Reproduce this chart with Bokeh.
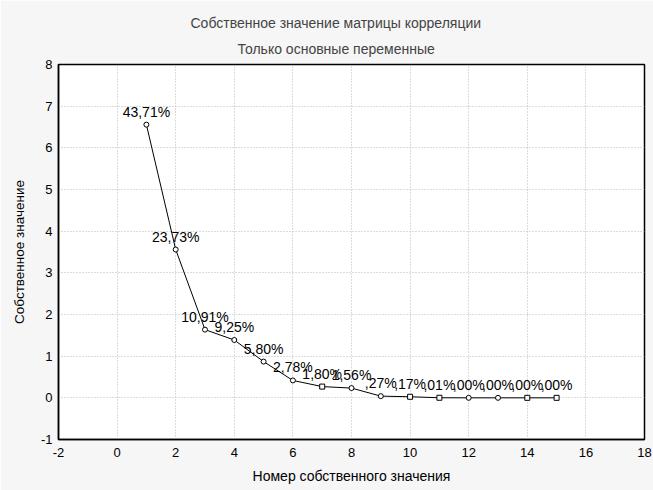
from bokeh.plotting import figure
from bokeh.models import (ColumnDataSource, Range1d, FixedTicker,
                          Title, PrintfTickFormatter)
from bokeh.core.properties import value
from bokeh.embed import file_html
from bokeh.resources import INLINE

# ---- data ----
components = [1, 2, 3, 4, 5, 6, 7, 8, 9, 10, 11, 12, 13, 14, 15]
eigenvalues = [6.557, 3.560, 1.637, 1.388, 0.870, 0.417, 0.270, 0.234,
               0.041, 0.026, 0.002, 0.0, 0.0, 0.0, 0.0]
pct_labels = ["43,71%", "23,73%", "10,91%", "9,25%", "5,80%", "2,78%", "1,80%",
              "1,56%", ",27%", ",17%", ",01%", ",00%", ",00%", ",00%", ",00%"]
markers = ["circle", "circle", "circle", "circle", "circle", "circle", "square",
           "circle", "circle", "square", "square", "circle", "circle", "square", "square"]
x_ticks = [-2, 0, 2, 4, 6, 8, 10, 12, 14, 16, 18]
y_ticks = [-1, 0, 1, 2, 3, 4, 5, 6, 7, 8]
title_text = "Собственное значение матрицы корреляции"
subtitle_text = "Только основные переменные"
x_label = "Номер собственного значения"
y_label = "Собственное значение"

FONT = "Liberation Sans"

src = ColumnDataSource(dict(x=components, y=eigenvalues, lab=pct_labels, m=markers))

p = figure(width=653, height=490, output_backend="svg", toolbar_location=None,
           x_range=Range1d(-2, 18), y_range=Range1d(-1, 8),
           min_border_left=58, min_border_right=9, min_border_top=64, min_border_bottom=51,
           background_fill_color="white", border_fill_color="#f6f6f6")

p.outline_line_color = "black"
p.outline_line_width = 1.5

for ax in (p.xaxis[0], p.yaxis[0]):
    ax.axis_line_color = "black"
    ax.axis_line_width = 1.5
    ax.major_tick_in = 0
    ax.major_tick_out = 0
    ax.minor_tick_in = 0
    ax.minor_tick_out = 0
    ax.major_label_text_font = FONT
    ax.major_label_text_font_size = "13px"
    ax.major_label_text_color = "black"
    ax.formatter = PrintfTickFormatter(format="%d")
    ax.axis_label_text_font = FONT
    ax.axis_label_text_font_style = "normal"
    ax.axis_label_text_color = "black"

p.xaxis[0].ticker = FixedTicker(ticks=x_ticks)
p.yaxis[0].ticker = FixedTicker(ticks=y_ticks)
p.xaxis[0].major_label_standoff = 8
p.yaxis[0].major_label_standoff = 6

p.xaxis[0].axis_label = x_label
p.xaxis[0].axis_label_text_font_size = "14px"
p.xaxis[0].axis_label_standoff = 8
p.yaxis[0].axis_label = y_label
p.yaxis[0].axis_label_text_font_size = "13.5px"
p.yaxis[0].axis_label_standoff = 11

p.xgrid.ticker = FixedTicker(ticks=x_ticks)
p.ygrid.ticker = FixedTicker(ticks=y_ticks)
for g in (p.xgrid[0], p.ygrid[0]):
    g.grid_line_color = "#b8b8b8"
    g.grid_line_dash = "1 2"
    g.grid_line_width = 1

p.line("x", "y", source=src, line_color="black", line_width=1)
p.scatter("x", "y", source=src, marker="m", size=5, fill_color="white",
          line_color="black", line_width=1)
p.text("x", "y", text="lab", source=src, text_font=value(FONT), text_font_size="14px",
       text_align="center", text_baseline="bottom", y_offset=-5, text_color="black")

# titles (centred on the whole picture rather than on the plot frame)
p.add_layout(Title(text=subtitle_text, text_font=FONT, text_font_size="14px",
                   text_font_style="normal", align="left", offset=179, standoff=16), "above")
p.add_layout(Title(text=title_text, text_font=FONT, text_font_size="14px",
                   text_font_style="normal", align="left", offset=132, standoff=0), "above")

open("out.html", "w").write(file_html(p, INLINE))
